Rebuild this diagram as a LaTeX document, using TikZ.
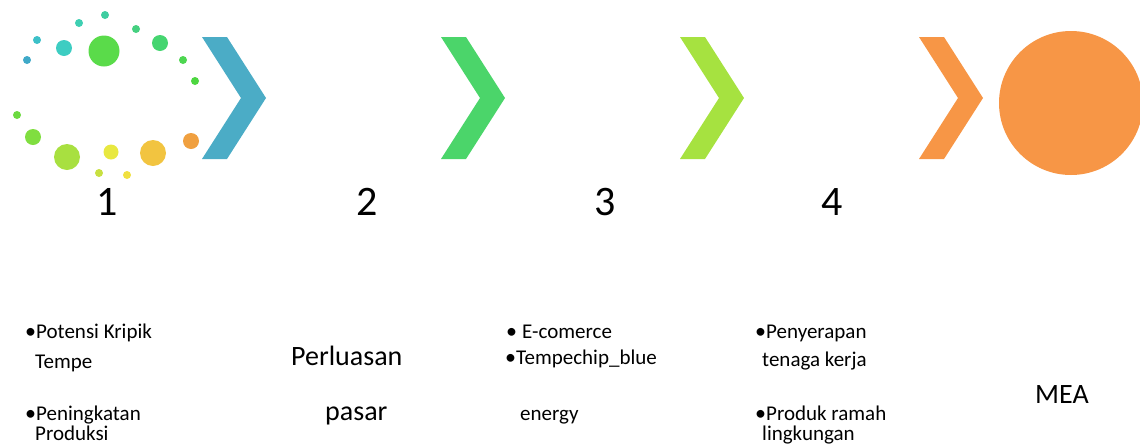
\documentclass[tikz,border=0pt]{standalone}
\usepackage{fontspec}
\setmainfont{Carlito}
\definecolor{chevblue}{HTML}{4BACC6}
\definecolor{chevgreen}{HTML}{4BD56A}
\definecolor{chevlime}{HTML}{A6E240}
\definecolor{chevorange}{HTML}{F79646}
\begin{document}
\begin{tikzpicture}[
  x=1pt, y=-1pt,
  num/.style={anchor=base, inner sep=0pt, font=\fontsize{42}{42}\selectfont},
  big/.style={anchor=base west, inner sep=0pt, font=\fontsize{28}{28}\selectfont},
  txt/.style={anchor=base west, inner sep=0pt, font=\fontsize{21}{21}\selectfont},
  bul/.style={anchor=base west, inner sep=0pt, font=\fontsize{22}{22}\selectfont},
]
  \useasboundingbox (0,0) rectangle (1140,445);

  % Ring of dots
  \foreach \cx/\cy/\r/\col in {
      27/60/4/3FA9C8, 37/40/4/3CC0C8, 64/48/8/3DCDC2, 79/23/4/3ECFB2,
      105/15/4/3ECDA0, 104/51/15.5/5ADB4A, 136/29/4/45D080, 160/43/8/45D570,
      183/60/4/4DD650, 195/81/4/4DD640, 17/115/4/6CDA40, 33/137/8/80DE40,
      67/157/13/A8E040, 99/173/4/C8E040, 111/152/7.5/E8E840, 127/175/4/F0E040,
      153/153/13/F2C440, 191/141/8/F0A040}
  {
    \definecolor{dotcol}{HTML}{\col}
    \fill[dotcol] (\cx,\cy) circle[radius=\r];
  }

  % Chevrons and end circle
  \fill[chevblue] (202,37) -- ++(25,0) -- ++(39,61) -- ++(-39,61) -- ++(-25,0) -- ++(39,-61) -- cycle;
  \fill[chevgreen] (441,37) -- ++(25,0) -- ++(39,61) -- ++(-39,61) -- ++(-25,0) -- ++(39,-61) -- cycle;
  \fill[chevlime] (680,37) -- ++(25,0) -- ++(39,61) -- ++(-39,61) -- ++(-25,0) -- ++(39,-61) -- cycle;
  \fill[chevorange] (919,37) -- ++(25,0) -- ++(39,61) -- ++(-39,61) -- ++(-25,0) -- ++(39,-61) -- cycle;
  \fill[chevorange] (1071,103) circle[radius=72];

  % Step numbers
  \node[num] (n1) at (107,215) {1};
  \node[num] (n2) at (367,215) {2};
  \node[num] (n3) at (605,215) {3};
  \node[num] (n4) at (832,215) {4};

  % Column 1
  \node[bul] (b1a) at (25,338) {•};
  \node[txt] (t1a) at (36,338) {Potensi Kripik};
  \node[txt] (t1b) at (35,368) {Tempe};
  \node[bul] (b1b) at (25,420) {•};
  \node[txt] (t1c) at (36,420) {Peningkatan};
  \node[txt] (t1d) at (35,440) {Produksi};

  % Column 2
  \node[big] (t2a) at (291,365) {Perluasan};
  \node[big] (t2b) at (325,420) {pasar};

  % Column 3
  \node[bul] (b3a) at (506,338) {•};
  \node[txt] (t3a) at (522,338) {E-comerce};
  \node[bul] (b3b) at (505,364) {•};
  \node[txt] (t3b) at (516,364) {Tempechip\_blue};
  \node[txt] (t3c) at (520,420) {energy};

  % Column 4
  \node[bul] (b4a) at (755,338) {•};
  \node[txt] (t4a) at (766,338) {Penyerapan};
  \node[txt] (t4b) at (762,366) {tenaga kerja};
  \node[bul] (b4b) at (755,420) {•};
  \node[txt] (t4c) at (766,420) {Produk ramah};
  \node[txt] (t4d) at (762,440) {lingkungan};

  % End label
  \node[big] (mea) at (1035,403) {MEA};
\end{tikzpicture}
\end{document}
